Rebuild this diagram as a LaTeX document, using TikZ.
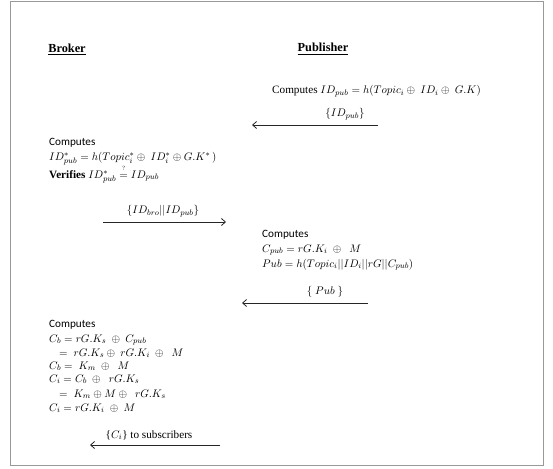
\documentclass[tikz,border=0pt]{standalone}
\usepackage{amsmath}
\usepackage{fontspec}
\setmainfont{Liberation Serif}
\newfontfamily\calfont{Carlito}
\usetikzlibrary{arrows.meta, positioning}

\begin{document}
\begin{tikzpicture}[>={Straight Barb[length=4pt,width=7pt]}, x=1pt, y=-1pt, font=\fontsize{11.2}{13}\selectfont]
\tikzset{msg/.style={->, line width=0.8pt, black!85},
  txt/.style={anchor=base west, inner sep=0pt},
  lbl/.style={inner sep=0pt},
  head/.style={font=\fontsize{12.3}{14}\selectfont\bfseries}}

\useasboundingbox (0,0) rectangle (553,468);
\draw[gray!80, line width=1pt] (10,2) rectangle (543,465);

\node[head] (broker) at (67,49) {\underline{Broker}};
\node[head] (publisher) at (323,49) {\underline{Publisher}};

% publisher computes the pseudo identity
\node[txt] (pubid) at (272,94) {Computes $ID_{pub} = h(Topic_{i} \oplus\ ID_{i} \oplus\ G.K)$};

\coordinate (m1s) at (378,125);
\coordinate (m1e) at (252,125);
\draw[msg] (m1s) -- (m1e);
\node[lbl] (m1) at (345,114) {$\{ID_{pub}\}$};

% broker verifies
\node[txt] (bc1) at (49,145) {\calfont Computes};
\node[txt] (bc2) at (49,160) {$ID^{*}_{pub} = h(Topic^{*}_{i} \oplus\ ID^{*}_{i} \oplus G.K^{*}\,)$};
\node[txt] (bc3) at (49,178) {\textbf{Verifies} $ID^{*}_{pub} \overset{\raisebox{1.5pt}{$\scriptscriptstyle ?$}}{=} ID_{pub}$};

\coordinate (m2s) at (103,222);
\coordinate (m2e) at (226,222);
\draw[msg] (m2s) -- (m2e);
\node[lbl] (m2) at (163,211) {$\{ID_{bro}||ID_{pub}\}$};

% publisher encrypts
\node[txt] (pc1) at (262,237) {\calfont Computes};
\node[txt] (pc2) at (262,252) {$C_{pub} = rG.K_{i}\ \oplus\ \ M$};
\node[txt] (pc3) at (262,267) {$Pub = h(Topic_{i}||ID_{i}||rG||C_{pub})$};

\coordinate (m3s) at (368,303);
\coordinate (m3e) at (242,303);
\draw[msg] (m3s) -- (m3e);
\node[lbl] (m3) at (325,292) {$\{\ Pub\ \}$};

% broker re-encrypts
\node[txt] (rc1) at (49,327) {\calfont Computes};
\node[txt] (rc2) at (49,342) {$C_{b} = rG.K_{s}\ \oplus\ C_{pub}$};
\node[txt] (rc3) at (59,356) {$=\ rG.K_{s} \oplus\ rG.K_{i}\ \oplus\ \ M$};
\node[txt] (rc4) at (49,369) {$C_{b} =\ K_{m}\ \oplus\ \ M$};
\node[txt] (rc5) at (49,382) {$C_{i} = C_{b}\ \oplus\ \ rG.K_{s}$};
\node[txt] (rc6) at (59,397) {$=\ K_{m} \oplus M \oplus\ \ rG.K_{s}$};
\node[txt] (rc7) at (49,411) {$C_{i} = rG.K_{i}\ \oplus\ M$};

\coordinate (m4s) at (220,445);
\coordinate (m4e) at (90,445);
\draw[msg] (m4s) -- (m4e);
\node[lbl] (m4) at (149,435) {\{$C_{i}$\} to subscribers};

\end{tikzpicture}
\end{document}
